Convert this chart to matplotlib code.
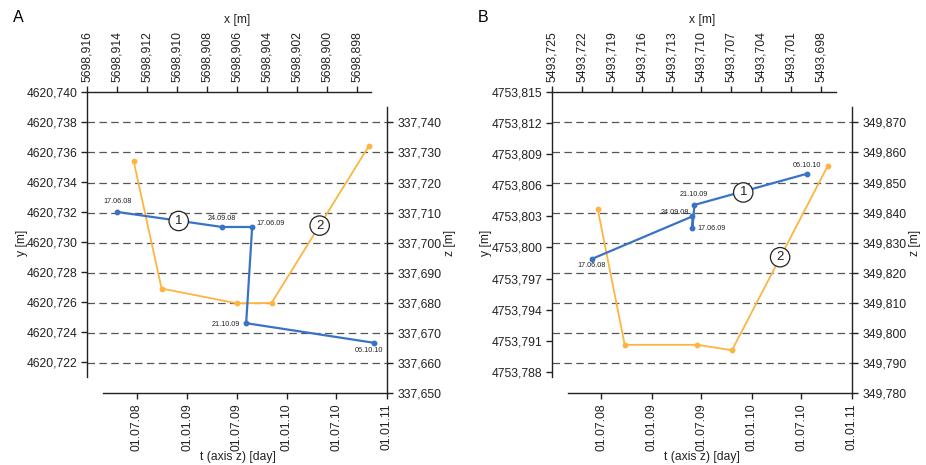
import matplotlib
matplotlib.use("Agg")
import matplotlib.pyplot as plt
import matplotlib.dates as mdates
from matplotlib.ticker import FuncFormatter
import numpy as np
import pandas as pd

plt.rcParams["font.family"] = ["Liberation Sans", "DejaVu Sans"]

BLUE = "#3a73c5"
ORANGE = "#fdb540"
INK = "#222222"
GRID = "#555555"

# survey epochs (labels next to the xy points)
epochs = ["17.06.08", "24.09.08", "17.06.09", "21.10.09", "06.10.10"]

# --- panel A ---
a_x = [5698.9140, 5698.9070, 5698.9050, 5698.9054, 5698.8969]
a_y = [4620.7320, 4620.7310, 4620.7310, 4620.7246, 4620.7233]
a_t = ["2008-06-20", "2008-09-30", "2009-07-01", "2009-11-06", "2010-10-28"]
a_z = [337.7271, 337.6848, 337.6799, 337.6800, 337.7322]
a_xticks = [5698.916, 5698.914, 5698.912, 5698.910, 5698.908,
            5698.906, 5698.904, 5698.902, 5698.900, 5698.898]
a_yticks = [4620.740, 4620.738, 4620.736, 4620.734, 4620.732,
            4620.730, 4620.728, 4620.726, 4620.724, 4620.722]
a_zticks = [337.740, 337.730, 337.720, 337.710, 337.700,
            337.690, 337.680, 337.670, 337.660, 337.650]
a_xlim = (5698.916, 5698.89707)
a_ylim = (4620.72104, 4620.740)
a_zlim = (337.650, 337.745)
a_circle1 = (5698.9099, 4620.7314)          # xy coords
a_circle2 = ("2010-05-01", 337.7057)        # t, z coords

# --- panel B ---
b_x = [5493.7210, 5493.7109, 5493.7109, 5493.7107, 5493.6994]
b_y = [4753.7989, 4753.8030, 4753.8019, 4753.8041, 4753.8071]
b_t = ["2008-06-17", "2008-09-24", "2009-06-17", "2009-10-21", "2010-10-06"]
b_z = [349.8413, 349.7961, 349.7961, 349.7943, 349.8555]
b_xticks = [5493.725, 5493.722, 5493.719, 5493.716, 5493.713,
            5493.710, 5493.707, 5493.704, 5493.701, 5493.698]
b_yticks = [4753.815, 4753.812, 4753.809, 4753.806, 4753.803,
            4753.800, 4753.797, 4753.794, 4753.791, 4753.788]
b_zticks = [349.870, 349.860, 349.850, 349.840, 349.830,
            349.820, 349.810, 349.800, 349.790, 349.780]
b_xlim = (5493.725, 5493.6965)
b_ylim = (4753.78756, 4753.815)
b_zlim = (349.780, 349.875)
b_circle1 = (5493.7058, 4753.8053)
b_circle2 = ("2010-04-15", 349.8252)

t_ticks = ["2008-07-01", "2009-01-01", "2009-07-01", "2010-01-01",
           "2010-07-01", "2011-01-01"]
t_lim = ("2008-03-01", "2011-01-01")

# label placement (pixel offsets from the point, alignment)
a_lbl = [((0, 10), "center"), ((0, 8), "center"), ((4, 3), "left"),
         ((-6, -1), "right"), ((-5, -8), "center")]
b_lbl = [((0, -7), "center"), ((-3, 4), "right"), ((5, -1), "left"),
         ((-1, 10), "center"), ((0, 8), "center")]

W, H = 926, 465


def box(l, t, r, b):
    return [l / W, 1 - b / H, (r - l) / W, (b - t) / H]


def comma(v, _pos=None):
    return f"{v:.3f}".replace(".", ",")


def to_num(dates):
    return mdates.date2num(pd.to_datetime(dates))


def style_spines(ax, keep):
    for side, sp in ax.spines.items():
        sp.set_visible(side in keep)
        sp.set_color(INK)
        sp.set_linewidth(1.0)


def draw_panel(fig, px, letter, x, y, t, z, xticks, yticks, zticks,
               xlim, ylim, zlim, circle1, circle2, lbl):
    xy_box = box(px + 87.3, 91.7, px + 371, 376.7)
    zt_box = box(px + 103.3, 107.3, px + 386.7, 393.3)

    # z over time (right + bottom axes), drawn underneath
    ax_zt = fig.add_axes(zt_box)
    ax_zt.set_facecolor("none")
    style_spines(ax_zt, ("right", "bottom"))
    ax_zt.yaxis.tick_right()
    ax_zt.set_ylim(*zlim)
    ax_zt.set_yticks(zticks)
    ax_zt.yaxis.set_major_formatter(FuncFormatter(comma))
    ax_zt.set_xlim(to_num(list(t_lim)))
    ax_zt.set_xticks(to_num(t_ticks))
    ax_zt.xaxis.set_major_formatter(mdates.DateFormatter("%d.%m.%y"))
    ax_zt.tick_params(axis="y", direction="out", length=4, width=1,
                      pad=4, labelsize=8.7, colors=INK)
    ax_zt.tick_params(axis="x", direction="out", length=4, width=1,
                      pad=3, labelsize=8.7, labelrotation=90, colors=INK)

    xmin = (xy_box[0] - zt_box[0]) / zt_box[2]
    for zv in zticks[:-1]:
        ax_zt.axhline(zv, xmin=xmin, xmax=1, color=GRID, lw=0.9,
                      dashes=(6, 3.5), clip_on=False, zorder=1)

    ax_zt.plot(to_num(t), z, color=ORANGE, lw=1.3, marker="o", ms=3.2,
               mfc=ORANGE, mec=ORANGE, zorder=3, clip_on=False)
    ax_zt.text(to_num([circle2[0]])[0], circle2[1], "2", ha="center",
               va="center", fontsize=9.5, color=INK, zorder=5,
               bbox=dict(boxstyle="circle,pad=0.28", fc="white",
                         ec=INK, lw=0.9))

    # x-y trajectory (left + top axes)
    ax_xy = fig.add_axes(xy_box)
    ax_xy.set_facecolor("none")
    style_spines(ax_xy, ("left", "top"))
    ax_xy.xaxis.tick_top()
    ax_xy.set_xlim(*xlim)
    ax_xy.set_ylim(*ylim)
    ax_xy.set_xticks(xticks)
    ax_xy.set_yticks(yticks)
    ax_xy.xaxis.set_major_formatter(FuncFormatter(comma))
    ax_xy.yaxis.set_major_formatter(FuncFormatter(comma))
    ax_xy.tick_params(axis="x", direction="out", length=4.5, width=1,
                      pad=2.5, labelsize=8.7, labelrotation=90, colors=INK)
    ax_xy.tick_params(axis="y", direction="out", length=4, width=1,
                      pad=3, labelsize=8.7, colors=INK)

    ax_xy.plot(x, y, color=BLUE, lw=1.6, marker="o", ms=3.2, mfc=BLUE,
               mec=BLUE, zorder=3, clip_on=False)
    for xi, yi, name, (off, ha) in zip(x, y, epochs, lbl):
        ax_xy.annotate(name, (xi, yi), xytext=off,
                       textcoords="offset pixels", ha=ha, va="center",
                       fontsize=5.2, color=INK, annotation_clip=False)
    ax_xy.text(circle1[0], circle1[1], "1", ha="center", va="center",
               fontsize=9.5, color=INK, zorder=5,
               bbox=dict(boxstyle="circle,pad=0.28", fc="white",
                         ec=INK, lw=0.9))

    # axis titles and panel letter
    fig.text((px + 18) / W, 1 - 18 / H, letter, fontsize=11.5,
             ha="center", va="center", color="black")
    fig.text((px + 237) / W, 1 - 20 / H, "x [m]", fontsize=8.7,
             ha="center", va="center", color=INK)
    fig.text((px + 21.5) / W, 1 - 243 / H, "y [m]", fontsize=8.7,
             rotation=90, ha="center", va="center", color=INK)
    fig.text((px + 450) / W, 1 - 243 / H, "z [m]", fontsize=8.7,
             rotation=90, ha="center", va="center", color=INK)
    fig.text((px + 237.5) / W, 1 - 457 / H, "t (axis z) [day]",
             fontsize=8.7, ha="center", va="center", color=INK)


fig = plt.figure(figsize=(W / 100, H / 100), dpi=100)
draw_panel(fig, 0, "A", a_x, a_y, a_t, a_z, a_xticks, a_yticks, a_zticks,
           a_xlim, a_ylim, a_zlim, a_circle1, a_circle2, a_lbl)
draw_panel(fig, 464.8, "B", b_x, b_y, b_t, b_z, b_xticks, b_yticks,
           b_zticks, b_xlim, b_ylim, b_zlim, b_circle1, b_circle2, b_lbl)

fig.savefig("out.png", dpi=100)
